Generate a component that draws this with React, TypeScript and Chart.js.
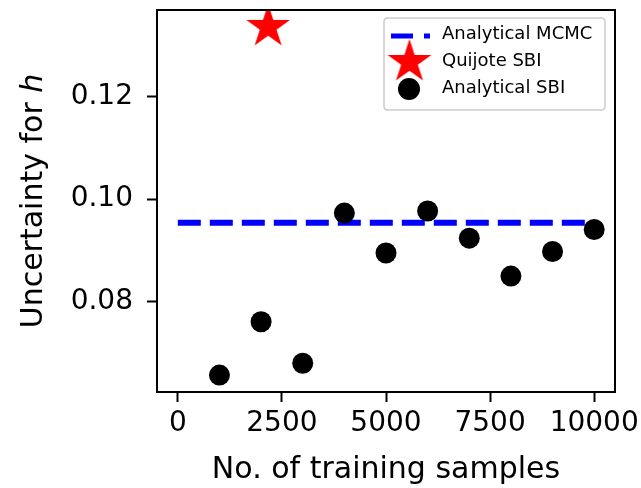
import React, { useEffect, useRef } from "react";
import { Chart, registerables } from "chart.js";

Chart.register(...registerables);

// ---- data ----
const trainingSamples = [1000, 2000, 3000, 4000, 5000, 6000, 7000, 8000, 9000, 10000];
const analyticalSBI = [0.0657, 0.0761, 0.068, 0.0973, 0.0895, 0.0977, 0.0924, 0.085, 0.0898, 0.0941];
const mcmcX = [0, 10000];
const mcmcUncertainty = 0.0954;
const quijoteX = [2170];
const quijoteY = [0.1336];
const xTicks = [0, 2500, 5000, 7500, 10000];
const yTicks = [0.08, 0.1, 0.12];
const labels = ["Analytical MCMC", "Quijote SBI", "Analytical SBI"];
const xTitle = "No. of training samples";
const yTitle = "Uncertainty for ";
const yTitleItalic = "h";

const FONT = "'DejaVu Sans', sans-serif";

function makeStar(R: number, color: string): HTMLCanvasElement {
  const size = Math.ceil(2 * R + 4);
  const c = document.createElement("canvas");
  c.width = size;
  c.height = size;
  const ctx = c.getContext("2d")!;
  const cx = size / 2;
  const cy = size / 2;
  const r = R * 0.381966;
  ctx.beginPath();
  for (let i = 0; i < 10; i++) {
    const rad = i % 2 === 0 ? R : r;
    const a = -Math.PI / 2 + (i * Math.PI) / 5;
    const px = cx + rad * Math.cos(a);
    const py = cy + rad * Math.sin(a);
    if (i === 0) ctx.moveTo(px, py);
    else ctx.lineTo(px, py);
  }
  ctx.closePath();
  ctx.fillStyle = color;
  ctx.fill();
  return c;
}

export default function App() {
  const ref = useRef<HTMLCanvasElement | null>(null);

  useEffect(() => {
    if (!ref.current) return;
    const star = makeStar(23, "#ff0000");

    const framePlugin = {
      id: "frameAndTitles",
      afterDraw(chart: any) {
        const { ctx, chartArea } = chart;
        ctx.save();
        // frame
        ctx.strokeStyle = "#000";
        ctx.lineWidth = 2;
        ctx.strokeRect(chartArea.left, chartArea.top, chartArea.right - chartArea.left, chartArea.bottom - chartArea.top);

        // x title
        ctx.fillStyle = "#000";
        ctx.font = `30px ${FONT}`;
        ctx.textAlign = "center";
        ctx.textBaseline = "alphabetic";
        ctx.fillText(xTitle, (chartArea.left + chartArea.right) / 2, 478);

        // y title (rotated, italic h)
        ctx.save();
        ctx.translate(42, (chartArea.top + chartArea.bottom) / 2);
        ctx.rotate(-Math.PI / 2);
        ctx.font = `30px ${FONT}`;
        const w1 = ctx.measureText(yTitle).width;
        ctx.font = `italic 30px ${FONT}`;
        const w2 = ctx.measureText(yTitleItalic).width;
        const start = -(w1 + w2) / 2;
        ctx.textAlign = "left";
        ctx.font = `30px ${FONT}`;
        ctx.fillText(yTitle, start, 0);
        ctx.font = `italic 30px ${FONT}`;
        ctx.fillText(yTitleItalic, start + w1, 0);
        ctx.restore();

        // legend
        const lx = 384, ly = 18, lw = 221, lh = 92, rr = 4;
        ctx.beginPath();
        ctx.moveTo(lx + rr, ly);
        ctx.lineTo(lx + lw - rr, ly);
        ctx.quadraticCurveTo(lx + lw, ly, lx + lw, ly + rr);
        ctx.lineTo(lx + lw, ly + lh - rr);
        ctx.quadraticCurveTo(lx + lw, ly + lh, lx + lw - rr, ly + lh);
        ctx.lineTo(lx + rr, ly + lh);
        ctx.quadraticCurveTo(lx, ly + lh, lx, ly + lh - rr);
        ctx.lineTo(lx, ly + rr);
        ctx.quadraticCurveTo(lx, ly, lx + rr, ly);
        ctx.closePath();
        ctx.fillStyle = "rgba(255,255,255,0.8)";
        ctx.fill();
        ctx.strokeStyle = "#cccccc";
        ctx.lineWidth = 1.5;
        ctx.stroke();

        const ds = chart.data.datasets;
        // MCMC handle
        ctx.beginPath();
        ctx.strokeStyle = ds[0].borderColor;
        ctx.lineWidth = 5;
        ctx.setLineDash([22, 11]);
        ctx.moveTo(391, 36);
        ctx.lineTo(430, 36);
        ctx.stroke();
        ctx.setLineDash([]);
        // star handle
        ctx.drawImage(star, 409.5 - star.width / 2, 62 - star.height / 2);
        // circle handle
        ctx.beginPath();
        ctx.arc(409, 89, 11, 0, Math.PI * 2);
        ctx.fillStyle = ds[2].backgroundColor;
        ctx.fill();

        ctx.fillStyle = "#000";
        ctx.font = `18px ${FONT}`;
        ctx.textAlign = "left";
        ctx.textBaseline = "middle";
        const rows = [34, 61, 88];
        for (let i = 0; i < 3; i++) ctx.fillText(ds[i].label, 442, rows[i]);
        ctx.restore();
      },
    };

    const chart = new Chart(ref.current, {
      type: "scatter",
      data: {
        datasets: [
          {
            label: labels[0],
            type: "line",
            data: mcmcX.map((x) => ({ x, y: mcmcUncertainty })),
            borderColor: "#0000ff",
            backgroundColor: "#0000ff",
            borderWidth: 6,
            borderDash: [23, 9],
            pointRadius: 0,
            fill: false,
            order: 2,
          } as any,
          {
            label: labels[1],
            data: quijoteX.map((x, i) => ({ x, y: quijoteY[i] })),
            pointStyle: star as any,
            pointRadius: 23,
            backgroundColor: "#ff0000",
            borderColor: "#ff0000",
            order: 1,
          },
          {
            label: labels[2],
            data: trainingSamples.map((x, i) => ({ x, y: analyticalSBI[i] })),
            pointStyle: "circle",
            pointRadius: 10.5,
            borderWidth: 0,
            backgroundColor: "#000000",
            borderColor: "#000000",
            order: 0,
          },
        ],
      },
      options: {
        animation: false,
        responsive: false,
        events: [],
        layout: { autoPadding: false, padding: { top: 10, right: 26, left: 0, bottom: 0 } },
        plugins: { legend: { display: false }, tooltip: { enabled: false } },
        scales: {
          x: {
            type: "linear",
            min: -500,
            max: 10500,
            afterBuildTicks: (s: any) => {
              s.ticks = xTicks.map((v) => ({ value: v }));
            },
            afterFit: (s: any) => {
              s.height = 96;
              s.paddingLeft = 0;
              s.paddingRight = 0;
            },
            ticks: {
              font: { family: FONT, size: 28 },
              color: "#000",
              padding: 5,
              maxRotation: 0,
              autoSkip: false,
              callback: (v: any) => String(v),
            },
            grid: { drawOnChartArea: false, drawTicks: true, tickLength: 10, tickWidth: 2, tickColor: "#000" },
            border: { display: false },
          },
          y: {
            type: "linear",
            min: 0.0624,
            max: 0.1369,
            afterBuildTicks: (s: any) => {
              s.ticks = yTicks.map((v) => ({ value: v }));
            },
            afterFit: (s: any) => {
              s.width = 157;
              s.paddingTop = 0;
              s.paddingBottom = 0;
            },
            ticks: {
              font: { family: FONT, size: 28 },
              color: "#000",
              padding: 14,
              autoSkip: false,
              callback: (v: any) => Number(v).toFixed(2),
            },
            grid: { drawOnChartArea: false, drawTicks: true, tickLength: 10, tickWidth: 2, tickColor: "#000" },
            border: { display: false },
          },
        },
      },
      plugins: [framePlugin],
    });
    return () => chart.destroy();
  }, []);

  return (
    <div style={{ position: "absolute", left: 0, top: 0, width: 641, height: 488, background: "#fff" }}>
      <canvas ref={ref} width={641} height={488} />
    </div>
  );
}
